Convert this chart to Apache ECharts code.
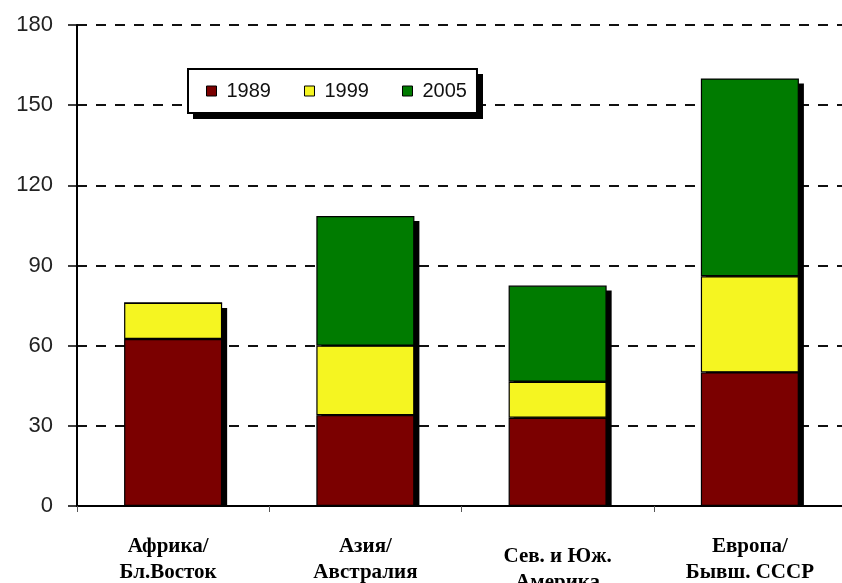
<!DOCTYPE html>
<html>
<head>
<meta charset="utf-8">
<script src="https://cdn.jsdelivr.net/npm/echarts@6/dist/echarts.min.js"></script>
<style>
  html, body { margin: 0; padding: 0; background: #fff; }
  #chart { width: 842px; height: 583px; }
</style>
</head>
<body>
<div id="chart"></div>
<script>
// Regions on the category axis
const regions = ['Африка/\nБл.Восток', 'Азия/\nАвстралия', 'Сев. и Юж.\nАмерика', 'Европа/\nБывш. СССР'];
// Stacked amounts per year
const years = ['1989', '1999', '2005'];
const v1989 = [62.5, 34, 33, 50];
const v1999 = [13.5, 26, 13.5, 36];
const v2005 = [0, 48.5, 36, 74];
const colors = ['#7b0000', '#f5f521', '#007b00'];
const yTicks = { min: 0, max: 180, interval: 30 };
const BAR_RATIO = 0.51;

const chart = echarts.init(document.getElementById('chart'));

function barSeries(name, data, color) {
  return {
    name: name,
    type: 'bar',
    stack: 'total',
    data: data,
    barWidth: (BAR_RATIO * 100) + '%',
    z: 4,
    itemStyle: { color: color, borderColor: '#000', borderWidth: 1.2 }
  };
}

// Drop shadow behind each whole stack, offset to the lower right
const totals = regions.map((r, i) => [i, v1989[i] + v1999[i] + v2005[i]]);
const shadowSeries = {
  type: 'custom',
  z: 2,
  silent: true,
  data: totals,
  renderItem: function (params, api) {
    const top = api.coord([api.value(0), api.value(1)]);
    const base = api.coord([api.value(0), 0]);
    const bw = api.size([1, 0])[0] * BAR_RATIO;
    return {
      type: 'rect',
      shape: { x: top[0] - bw / 2 + 5, y: top[1] + 5, width: bw, height: base[1] - top[1] - 5 },
      style: { fill: '#000' }
    };
  }
};

// Per-label nudges for the category captions
const labelPadding = [[0, 10, 0, 0], null, [10, 0, 0, 0], null];

chart.setOption({
  animation: false,
  backgroundColor: '#fff',
  grid: { left: 77, right: -4, top: 25, bottom: 77, outerBoundsMode: 'none', containLabel: false },
  // solid shadow block behind the legend frame
  graphic: [{
    type: 'rect',
    z: 3,
    silent: true,
    shape: { x: 193, y: 74, width: 290, height: 45 },
    style: { fill: '#000' }
  }],
  legend: {
    data: years,
    left: 188,
    top: 69,
    z: 6,
    padding: [12, 10, 12, 18],
    itemGap: 33,
    itemWidth: 10,
    itemHeight: 10,
    icon: 'rect',
    backgroundColor: '#fff',
    borderColor: '#000',
    borderWidth: 2,
    itemStyle: { borderColor: '#000', borderWidth: 1 },
    textStyle: { fontFamily: 'Liberation Sans, Arial, sans-serif', fontSize: 20, color: '#111', padding: [0, 0, 0, 5] }
  },
  xAxis: {
    type: 'category',
    data: regions.map((r, i) => labelPadding[i] ? { value: r, textStyle: { padding: labelPadding[i] } } : r),
    axisLine: { lineStyle: { color: '#000', width: 2 } },
    axisTick: { show: true, length: 6, lineStyle: { color: '#555', width: 1 } },
    axisLabel: {
      margin: 28,
      interval: 0,
      fontFamily: 'Liberation Serif, Times New Roman, serif',
      fontWeight: 'bold',
      fontSize: 21,
      lineHeight: 26,
      color: '#000'
    }
  },
  yAxis: {
    type: 'value',
    min: yTicks.min,
    max: yTicks.max,
    interval: yTicks.interval,
    axisLine: { show: true, lineStyle: { color: '#000', width: 2 } },
    axisTick: { show: true, length: 9, lineStyle: { color: '#000', width: 1.5 } },
    axisLabel: {
      margin: 24,
      fontFamily: 'Liberation Sans, Arial, sans-serif',
      fontSize: 22,
      color: '#222'
    },
    splitLine: {
      show: true,
      lineStyle: { color: '#111', width: 2, type: [10, 9] }
    }
  },
  series: [
    shadowSeries,
    barSeries(years[0], v1989, colors[0]),
    barSeries(years[1], v1999, colors[1]),
    barSeries(years[2], v2005, colors[2])
  ]
});
</script>
</body>
</html>
